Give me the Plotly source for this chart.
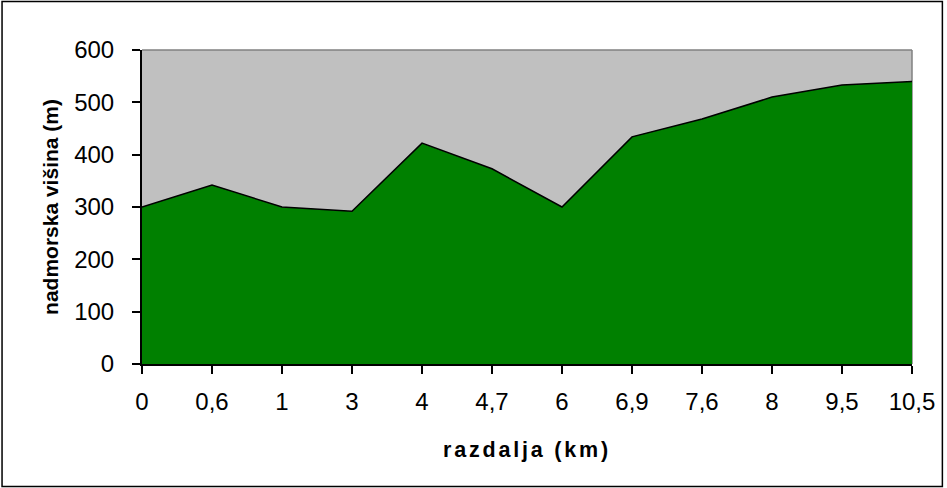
import plotly.graph_objects as go

categories = ["0", "0,6", "1", "3", "4", "4,7", "6", "6,9", "7,6", "8", "9,5", "10,5"]
elevation = [300, 342, 300, 292, 422, 373, 300, 434, 468, 510, 533, 540]
y_ticks = [0, 100, 200, 300, 400, 500, 600]

W, H = 947, 488
L, R, T, B = 142, 32, 50, 124
pw, ph = W - L - R, H - T - B

x_idx = list(range(len(categories)))

fig = go.Figure()
fig.add_trace(go.Scatter(
    x=x_idx, y=elevation, mode="lines", fill="tozeroy",
    fillcolor="#008000", line=dict(color="black", width=1.5),
    hoverinfo="skip", showlegend=False,
))

font = "Liberation Sans, Arial, sans-serif"
fig.update_layout(
    width=W, height=H,
    margin=dict(l=L, r=R, t=T, b=B),
    paper_bgcolor="white", plot_bgcolor="#C0C0C0",
    font=dict(family=font, color="black", size=24),
    xaxis=dict(
        range=[0, len(categories) - 1], tickmode="array", tickvals=x_idx,
        ticktext=categories, showgrid=False, zeroline=False,
        ticks="outside", ticklen=8, tickcolor="black", tickwidth=1.5,
        showline=True, linecolor="black", linewidth=2,
        tickfont=dict(size=24), ticklabelstandoff=7,
        title=dict(text='<b><span style="letter-spacing:2.8px">razdalja (km)</span></b>',
                   font=dict(size=21.5), standoff=28),
    ),
    yaxis=dict(
        range=[0, 600], tickmode="array", tickvals=y_ticks,
        showgrid=False, zeroline=False,
        ticks="outside", ticklen=8, tickcolor="black", tickwidth=1.5,
        showline=True, linecolor="black", linewidth=2,
        tickfont=dict(size=24), ticklabelstandoff=13,
        title=dict(text="<b>nadmorska višina (m)</b>", font=dict(size=21), standoff=10),
    ),
    shapes=[
        dict(type="line", xref="paper", yref="paper", x0=0, x1=1, y0=1, y1=1,
             line=dict(color="#808080", width=1.5), layer="above"),
        dict(type="line", xref="paper", yref="paper", x0=1, x1=1, y0=0, y1=1,
             line=dict(color="#808080", width=1.5), layer="below"),
        dict(type="rect", xref="paper", yref="paper",
             x0=(1.5 - L) / pw, x1=(W - 1.5 - L) / pw,
             y0=(ph + T - (H - 1.5)) / ph, y1=(ph + T - 1.5) / ph,
             line=dict(color="black", width=1.5), fillcolor="rgba(0,0,0,0)"),
    ],
)

fig.write_html("out.html", config={"displayModeBar": False},
               post_script="document.body.style.margin='0';document.body.style.overflow='hidden';")
